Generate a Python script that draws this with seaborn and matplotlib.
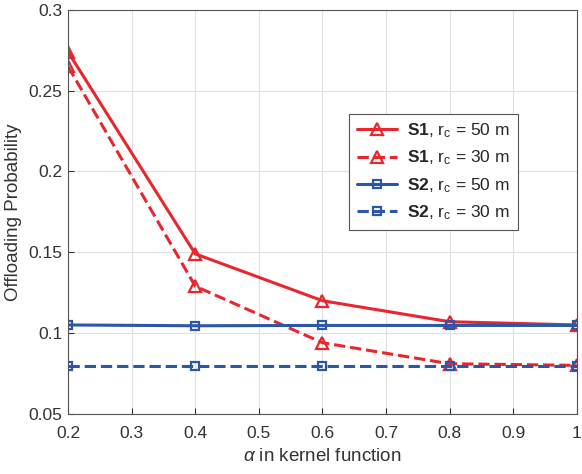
import matplotlib
matplotlib.use("Agg")
import matplotlib.pyplot as plt
import seaborn as sns
import pandas as pd

alpha = [0.2, 0.4, 0.6, 0.8, 1.0]
s1_50 = [0.274, 0.149, 0.120, 0.107, 0.105]
s1_30 = [0.265, 0.129, 0.094, 0.081, 0.080]
s2_50 = [0.105, 0.1045, 0.1047, 0.1047, 0.1047]
s2_30 = [0.0795, 0.0795, 0.0795, 0.0795, 0.0795]
labels = [r"$\mathbf{S1}$, r$_\mathrm{c}$ = 50 m",
          r"$\mathbf{S1}$, r$_\mathrm{c}$ = 30 m",
          r"$\mathbf{S2}$, r$_\mathrm{c}$ = 50 m",
          r"$\mathbf{S2}$, r$_\mathrm{c}$ = 30 m"]

sns.set_style("whitegrid")
plt.rcParams['font.family'] = ['Liberation Sans', 'DejaVu Sans']
plt.rcParams['mathtext.fontset'] = 'custom'
plt.rcParams['mathtext.rm'] = 'Liberation Sans'
plt.rcParams['mathtext.it'] = 'Liberation Sans:italic'
plt.rcParams['mathtext.bf'] = 'Liberation Sans:bold'

red = '#e8262d'
blue = '#2a57a8'

fig = plt.figure(figsize=(5.82, 4.74), dpi=100)
ax = fig.add_axes([0.117, 0.127, 0.874, 0.852])

series = [
    (s1_50, red, '-', '^', labels[0]),
    (s1_30, red, '--', '^', labels[1]),
    (s2_50, blue, '-', 's', labels[2]),
    (s2_30, blue, '--', 's', labels[3]),
]
for vals, c, ls, mk, lab in series:
    df = pd.DataFrame({'alpha': alpha, 'p': vals})
    sns.lineplot(data=df, x='alpha', y='p', ax=ax, color=c, linestyle=ls,
                 marker=mk, markersize=9 if mk == '^' else 6,
                 markerfacecolor='none', markeredgecolor=c, markeredgewidth=1.6,
                 linewidth=2.2, label=lab)

ax.set_xlim(0.2, 1.0)
ax.set_ylim(0.05, 0.3)
ax.set_xticks([0.2, 0.3, 0.4, 0.5, 0.6, 0.7, 0.8, 0.9, 1.0])
ax.set_xticklabels(['0.2', '0.3', '0.4', '0.5', '0.6', '0.7', '0.8', '0.9', '1'])
ax.set_yticks([0.05, 0.1, 0.15, 0.2, 0.25, 0.3])
ax.set_yticklabels(['0.05', '0.1', '0.15', '0.2', '0.25', '0.3'])
ax.grid(True, color='#e0e0e0', linewidth=0.8)
for s in ax.spines.values():
    s.set_visible(True)
    s.set_color('#555555')
    s.set_linewidth(0.8)
ax.tick_params(axis='both', labelsize=12.5, colors='#333333', length=4, direction='in',
               left=True, bottom=True)
ax.tick_params(axis='x', pad=9)
ax.tick_params(axis='y', pad=4)
ax.set_xlabel(r"$\alpha$ in kernel function", fontsize=13.5, color='#333333', labelpad=5)
ax.set_ylabel("Offloading Probability", fontsize=13.5, color='#333333', labelpad=5)

leg = ax.legend(loc='upper left', bbox_to_anchor=(0.535, 0.765), fontsize=12.5,
                frameon=True, fancybox=False, framealpha=1, edgecolor='#555555',
                handlelength=2.3, handletextpad=0.6, borderpad=0.45, labelspacing=0.5)
leg.get_frame().set_linewidth(0.8)

fig.savefig("out.png", dpi=100)
